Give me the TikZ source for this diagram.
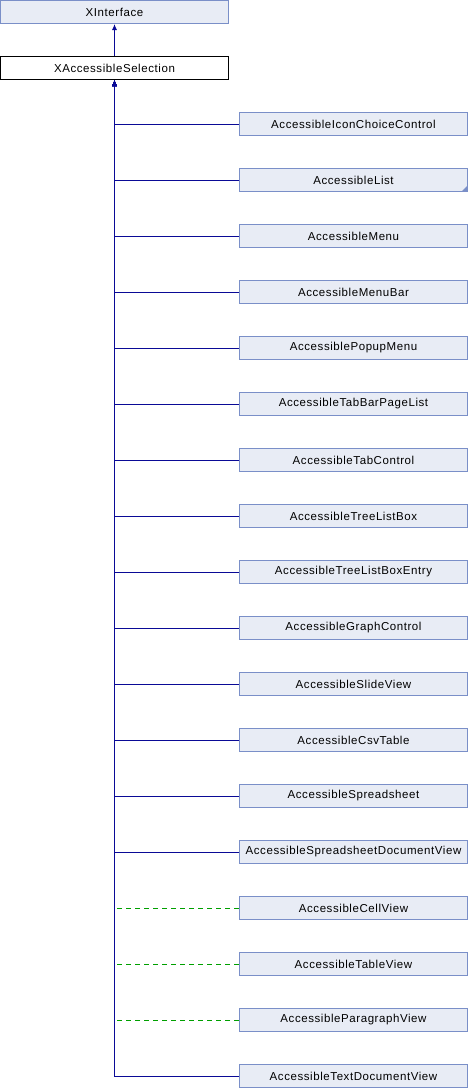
\documentclass[tikz,border=0pt]{standalone}
\usepackage{fontspec}
\setmainfont{Liberation Sans}[LetterSpace=5]
\usetikzlibrary{arrows.meta}
\definecolor{boxfill}{RGB}{232,236,245}
\definecolor{boxline}{RGB}{122,143,200}
\definecolor{edgeblue}{RGB}{10,10,150}
\definecolor{edgegreen}{RGB}{0,160,0}
\tikzset{
  cls/.style={draw=boxline, fill=boxfill, line width=1pt, minimum width=228pt, minimum height=23pt, inner sep=0pt, font=\fontsize{11.5pt}{13pt}\selectfont},
  curcls/.style={draw=black, fill=white, line width=1pt, minimum width=228pt, minimum height=23pt, inner sep=0pt, font=\fontsize{11.5pt}{13pt}\selectfont},
  inh/.style={draw=edgeblue, line width=1pt, -{Latex[length=6pt,width=5pt]}},
  dep/.style={draw=edgegreen, line width=1pt, dash pattern=on 5pt off 4pt}
}
\begin{document}
\begin{tikzpicture}[x=1pt,y=-1pt]
\useasboundingbox (0,0) rectangle (468,1088);
\node[cls] (iface) at (114.5,12) {XInterface};
\node[curcls] (sel) at (114.5,68) {XAccessibleSelection};
\foreach \name/\txt [count=\i from 0] in {
  c1/AccessibleIconChoiceControl,
  c2/AccessibleList,
  c3/AccessibleMenu,
  c4/AccessibleMenuBar,
  c5/AccessiblePopupMenu,
  c6/AccessibleTabBarPageList,
  c7/AccessibleTabControl,
  c8/AccessibleTreeListBox,
  c9/AccessibleTreeListBoxEntry,
  c10/AccessibleGraphControl,
  c11/AccessibleSlideView,
  c12/AccessibleCsvTable,
  c13/AccessibleSpreadsheet,
  c14/AccessibleSpreadsheetDocumentView,
  c15/AccessibleCellView,
  c16/AccessibleTableView,
  c17/AccessibleParagraphView,
  c18/AccessibleTextDocumentView}{
  \node[cls] (\name) at (353.5,124+56*\i) {\txt};
}
% small corner marker on AccessibleList
\fill[boxline] (c2.south east) ++(-0.5,-0.5) -- ++(-6,0) -- ++(6,-6) -- cycle;
% dependency (dashed) edges
\foreach \c in {c15,c16,c17}{
  \draw[dep] ([yshift=-0.5pt]\c.west) -- ([xshift=2pt,yshift=-0.5pt]\c.west -| sel.south);
}
% inheritance edges
\draw[inh] (sel.north) -- (iface.south);
\foreach \c in {c1,c2,c3,c4,c5,c6,c7,c8,c9,c10,c11,c12,c13,c14,c18}{
  \draw[inh] ([yshift=-0.5pt]\c.west) -| (sel.south);
}
\end{tikzpicture}
\end{document}
